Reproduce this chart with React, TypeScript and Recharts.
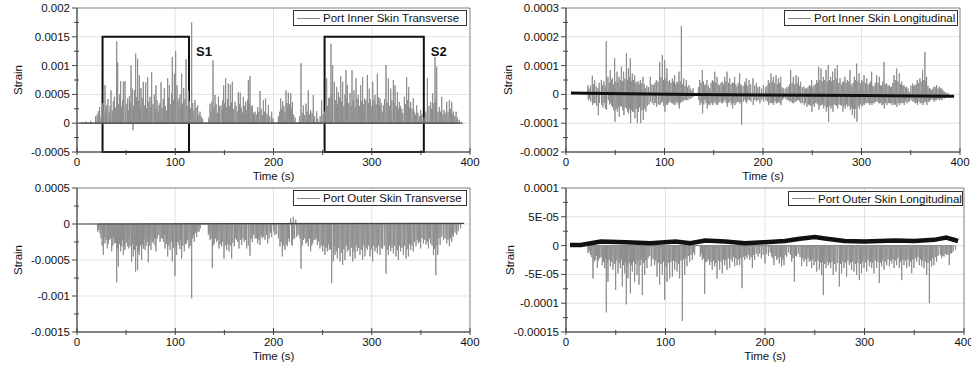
import React from 'react';
import { LineChart, Line, XAxis, YAxis, CartesianGrid, ReferenceArea } from 'recharts';

const FONT = '"Liberation Sans", Arial, sans-serif';

// time axis, seconds
const timeTicks = [0, 50, 100, 150, 200, 250, 300, 350, 400];
const timeMajor = [0, 100, 200, 300, 400];

// ---- Port Inner Skin Transverse, strain x 1e-3, [time, peak]
const innerTransPeaks = [
  [5, 0.02], [9, 0.03], [14, 0.04], [19, 0.12], [21.7, 0.21], [28.5, 0.66], [30.2, 0.31], [34.6, 0.57],
  [38, 0.46], [40.4, 1.42], [41.4, 1.06], [44.4, 0.73], [47.2, 0.72], [48.9, 0.73], [51.6, 0.43],
  [53.3, 0.47], [55, 1.0], [56.3, 0.6], [57, -0.12], [58.4, 0.57], [59.7, 1.21], [61.7, 1.12], [63.4, 0.83],
  [65.1, 0.61], [67.5, 0.72], [69.9, 0.71], [71.9, 0.8], [74.3, 0.46], [76, 0.89], [78.7, 0.5],
  [80.4, 0.66], [83.5, 0.31], [85.5, 0.71], [88.9, 0.61], [92.3, 0.78], [94, 0.66], [97, 1.15],
  [99.1, 0.86], [100.4, 1.25], [101.8, 0.66], [103.8, 0.43], [106.5, 0.86], [108.6, 0.61], [111, 1.11],
  [113.3, 0.56], [116.7, 1.75], [120.1, 0.4], [122.8, 0.31], [125.2, 0.2], [135.4, 0.34], [138.4, 1.09],
  [140.5, 0.49], [143.9, 0.46], [146.6, 0.31], [149.3, 0.66], [151.3, 0.78], [154, 0.69], [156.1, 0.67],
  [158.1, 0.72], [160.8, 0.37], [164.2, 0.54], [166.2, 0.53], [169.3, 0.46], [171.7, 0.37], [174.4, 0.75],
  [176.1, 0.82], [178.5, 0.31], [181.2, 0.2], [183.9, 0.28], [186.3, 0.56], [189.7, 0.4], [192, 0.43],
  [194.8, 0.31], [198.1, 0.2], [207.3, 0.43], [209.3, 0.38], [212.7, 0.57], [215.1, 0.53], [217.5, 0.52],
  [219.2, 0.37], [228, 1.04], [230.4, 0.31], [233.1, 0.34], [235.4, 0.57], [237.8, 0.23], [240.5, 0.49],
  [243.9, 0.21], [249, 0.4], [254.1, 0.78], [256.1, 0.43], [258.5, 1.38], [260.2, 1.01], [261.9, 0.72],
  [264.3, 0.63], [266, 0.54], [268.4, 0.82], [270.4, 0.72], [273.8, 0.92], [275.2, 0.66], [277.9, 0.52],
  [279.9, 0.92], [281.9, 0.57], [284, 0.78], [286.3, 0.49], [288.7, 0.66], [290.7, 0.8], [292.8, 0.43],
  [295.5, 0.84], [297.5, 0.6], [301, 0.72], [303.3, 0.49], [305.7, 0.86], [308.4, 0.43], [311.8, 0.31],
  [314.5, 1.01], [316.9, 0.78], [319.3, 0.6], [322, 0.75], [323.7, 0.66], [326.1, 0.54], [328.1, 0.37],
  [330.5, 0.25], [333.2, 0.46], [335.5, 0.8], [337.6, 0.63], [339.6, 0.37], [342.3, 0.43], [345.7, 0.31],
  [349.8, 0.23], [356.6, 0.78], [360, 0.37], [362, 0.52], [364.4, 1.15], [366.1, 0.98], [368.8, 0.28],
  [371.2, 0.46], [373.6, 0.23], [376.3, 0.37], [379, 0.4], [381.4, 0.37], [383.1, 0.2], [385.8, 0.2],
];
// small spikes filling the band near zero
const innerTransMinor = [
  [20.5, 0.15], [23, 0.28], [24.5, 0.12], [26, 0.35], [27.3, 0.2], [29.4, 0.25], [31.5, 0.42], [32.8, 0.18],
  [33.7, 0.3], [36, 0.22], [37, 0.38], [39.2, 0.27], [42.5, 0.33], [43.4, 0.5], [45.5, 0.29], [46.3, 0.4],
  [50, 0.34], [52.5, 0.22], [54.2, 0.36], [57.6, 0.3], [60.6, 0.45], [62.6, 0.38], [64.3, 0.28], [66.3, 0.44],
  [68.7, 0.31], [70.8, 0.26], [73.1, 0.37], [75.2, 0.28], [77.3, 0.33], [79.6, 0.24], [81.5, 0.4], [82.5, 0.2],
  [84.5, 0.35], [86.7, 0.27], [87.8, 0.42], [90, 0.3], [91.2, 0.22], [93.1, 0.45], [95.5, 0.33], [96.2, 0.52],
  [98, 0.4], [102.7, 0.37], [104.9, 0.5], [105.7, 0.28], [107.5, 0.34], [109.8, 0.42], [112, 0.3], [114.3, 0.38],
  [115.5, 0.26], [117.8, 0.35], [119, 0.22], [121.2, 0.27], [124, 0.15], [126.5, 0.12], [127.8, 0.08],
  [134.2, 0.1], [136.5, 0.2], [137.3, 0.38], [139.5, 0.28], [141.6, 0.33], [142.8, 0.18], [145, 0.3], [147.8, 0.22],
  [148.4, 0.4], [150.2, 0.35], [152.5, 0.28], [153.2, 0.42], [155, 0.3], [157.2, 0.36], [159.3, 0.25], [161.9, 0.3],
  [163.2, 0.2], [165.3, 0.33], [167.4, 0.27], [168.4, 0.18], [170.5, 0.3], [172.8, 0.22], [173.5, 0.4], [175.2, 0.35],
  [177.3, 0.3], [179.7, 0.18], [180.4, 0.12], [182.5, 0.15], [185, 0.2], [187.5, 0.25], [188.6, 0.14], [191, 0.2],
  [193.4, 0.16], [196.2, 0.12], [199.5, 0.08], [205, 0.12], [206.3, 0.2], [208.4, 0.25], [210.5, 0.3], [211.6, 0.2],
  [213.8, 0.35], [214.3, 0.27], [216.3, 0.33], [218.3, 0.25], [220.5, 0.15], [222, 0.1], [226.5, 0.12], [229.2, 0.18],
  [231.6, 0.14], [234.2, 0.2], [236.6, 0.15], [239.2, 0.18], [241.8, 0.12], [245, 0.08], [247.5, 0.12],
  [250.5, 0.15], [252, 0.2], [253, 0.35], [255.2, 0.3], [257.3, 0.45], [259.4, 0.5], [263, 0.4], [265.2, 0.33],
  [267.2, 0.45], [269.4, 0.38], [271.6, 0.3], [272.7, 0.5], [274.6, 0.42], [276.5, 0.35], [278.8, 0.3], [281, 0.4],
  [283, 0.28], [285.1, 0.42], [287.5, 0.3], [289.7, 0.38], [291.8, 0.33], [294, 0.4], [296.5, 0.35], [298.7, 0.42],
  [300, 0.3], [302.2, 0.4], [304.4, 0.33], [306.8, 0.45], [307.6, 0.3], [309.5, 0.35], [310.6, 0.2], [313, 0.42],
  [315.7, 0.36], [318.1, 0.3], [320.5, 0.4], [322.8, 0.35], [325, 0.3], [327.1, 0.25], [329.3, 0.3], [331.6, 0.18],
  [334.3, 0.33], [336.6, 0.4], [338.6, 0.27], [341, 0.25], [343.5, 0.2], [344.6, 0.15], [347, 0.18], [348.5, 0.12],
  [351, 0.15], [353.2, 0.1], [355, 0.2], [358.3, 0.3], [361, 0.25], [363.2, 0.35], [365.3, 0.4], [367.4, 0.2],
  [370, 0.2], [372.4, 0.15], [374.8, 0.18], [377.7, 0.2], [380.2, 0.25], [382.2, 0.15], [384.5, 0.12], [387, 0.1],
  [389, 0.06],
];
const innerTransBase = [[0.5, 0], [392.5, 0]];
const innerTransTicks = [-0.5, -0.25, 0, 0.25, 0.5, 0.75, 1, 1.25, 1.5, 1.75, 2];
const innerTransMajor = [-0.5, 0, 0.5, 1, 1.5, 2];
const innerTransLabels = ['-0.0005', '0', '0.0005', '0.001', '0.0015', '0.002'];

// ---- Port Inner Skin Longitudinal, strain x 1e-4, [time, peak, trough]
const innerLongPeaks = [
  [22.3, 0.32, -0.2], [26.7, 0.65, -0.37], [29.1, 0.5, -0.31], [32.5, 0.21, -0.72], [35.9, 0.5, -0.37],
  [40.9, 1.85, -0.54], [42.6, 0.61, -0.2], [45, 0.85, -0.31], [47, 0.56, -0.43], [49.4, 1.25, -0.95],
  [51.8, 0.79, -0.6], [53.8, 0.61, -0.78], [56.2, 0.96, -0.43], [58.5, 0.79, -0.72], [61.3, 1.42, -0.49],
  [63.3, 0.9, -0.66], [65.3, 1.25, -1.0], [67.3, 0.73, -0.6], [69.7, 0.67, -0.83], [72.1, 0.44, -1.0],
  [75.5, 0.5, -1.0], [78.2, 0.61, -0.89], [80.9, 0.21, -0.6], [85.6, 0.61, -0.25], [89, 0.32, -0.37],
  [91.7, 0.5, -0.43], [95.1, 1.13, -0.37], [97.8, 1.37, -0.25], [100.2, 1.19, -0.6], [102.5, 0.9, -0.37],
  [105.2, 0.5, -0.25], [108, 0.56, -0.31], [110.3, 0.67, -0.37], [112.7, 0.44, -0.25], [114.7, 0.79, -0.49],
  [117.1, 2.38, -0.25], [119.5, 0.56, -0.2], [122.2, 0.5, -0.2], [124.9, 0.32, -0.14], [129, 0.21, -0.08],
  [135.7, 0.5, -0.37], [138.4, 0.85, -0.66], [140.8, 0.32, -0.2], [143.1, 0.5, -0.49], [145.9, 0.21, -0.37],
  [148.6, 0.5, -0.37], [151, 0.79, -0.25], [153.3, 0.61, -0.37], [156, 0.32, -0.25], [158.7, 0.44, -0.31],
  [161.1, 0.61, -0.2], [163.5, 0.79, -0.43], [166.2, 0.56, -0.25], [168.9, 0.41, -0.49], [171.2, 0.61, -0.37],
  [173.6, 0.27, -0.25], [176.3, 0.73, -0.31], [178, 0.3, -1.06], [181.4, 0.44, -0.2], [183.1, 0.56, -0.31],
  [185.8, 0.5, -0.2], [189.8, 0.56, -0.37], [193.2, 0.38, -0.25], [196.6, 0.27, -0.31], [200.4, 0.32, -0.25],
  [205.4, 0.5, -0.37], [208.1, 0.73, -0.31], [210.5, 0.61, -0.37], [213.2, 0.67, -0.31], [215.6, 0.56, -0.25],
  [218, 0.61, -0.37], [220.6, 0.21, -0.14], [225.7, 0.27, -0.2], [228.1, 0.85, -0.25], [230.8, 0.61, -0.31],
  [233.5, 0.67, -0.25], [235.9, 0.61, -0.2], [238.2, 0.44, -0.31], [241.6, 0.27, -0.37], [244.3, 0.21, -0.43],
  [247, 0.32, -0.37], [249.4, 0.5, -0.6], [251.8, 0.32, -0.43], [254.5, 0.5, -0.31], [256.5, 0.96, -0.54],
  [258.9, 0.9, -0.37], [261.3, 0.61, -0.49], [264, 0.85, -0.6], [266.3, 1.02, -0.95], [268.7, 0.61, -0.49],
  [270.7, 0.79, -0.6], [273.1, 0.9, -0.37], [275.5, 1.02, -0.49], [278.2, 0.56, -0.37], [280.9, 0.44, -0.6],
  [283.2, 0.61, -0.49], [285.6, 0.5, -0.43], [288.3, 0.85, -0.54], [290.4, 0.27, -0.72], [292.7, 0.61, -0.83],
  [295.1, 1.07, -0.95], [297.5, 0.73, -0.49], [300.2, 0.5, -0.43], [302.6, 0.67, -0.37], [305.3, 0.56, -0.31],
  [308, 0.38, -0.37], [310.3, 0.79, -0.37], [312.7, 0.27, -0.31], [315.4, 0.67, -0.25], [318.1, 0.61, -0.31],
  [320.5, 0.32, -0.37], [322.9, 1.13, -0.49], [325.6, 0.38, -0.37], [328.3, 0.32, -0.31], [330.6, 0.27, -0.37],
  [333, 0.67, -0.37], [335.7, 0.9, -0.43], [338.4, 0.73, -0.37], [340.8, 0.44, -0.31], [343.1, 0.32, -0.37],
  [345.8, 0.27, -0.31], [348.5, 0.09, -0.25], [351.9, 0.38, -0.25], [354.3, 0.32, -0.31], [356.6, 0.5, -0.37],
  [359.3, 0.56, -0.31], [362, 0.85, -0.37], [364.4, 1.48, -0.25], [366.1, 0.61, -0.37], [368.8, 0.21, -0.25],
  [371.2, 0.15, -0.14], [373.6, 0.27, -0.25], [376.3, 0.32, -0.2], [379, 0.27, -0.2], [381.4, 0.21, -0.2],
  [383.8, 0.09, -0.14], [386.5, 0.03, -0.1],
];
const innerLongMinor = [
  [23.5, 0.2, -0.15], [24.9, 0.3, -0.25], [28, 0.35, -0.3], [30.8, 0.28, -0.4], [33.7, 0.4, -0.3], [37.2, 0.33, -0.45],
  [38.5, 0.45, -0.3], [39.7, 0.3, -0.5], [43.8, 0.4, -0.35], [46, 0.5, -0.4], [48.2, 0.35, -0.55], [50.6, 0.45, -0.5],
  [52.8, 0.4, -0.45], [55, 0.5, -0.4], [57.4, 0.45, -0.55], [59.8, 0.55, -0.45], [62.3, 0.5, -0.6], [64.3, 0.6, -0.5],
  [66.3, 0.45, -0.55], [68.5, 0.5, -0.6], [70.9, 0.4, -0.5], [73.3, 0.45, -0.6], [74.3, 0.35, -0.45], [76.8, 0.4, -0.55],
  [79.5, 0.35, -0.5], [82.2, 0.3, -0.4], [83.9, 0.25, -0.35], [87.3, 0.35, -0.3], [90.3, 0.4, -0.3], [93.4, 0.45, -0.35],
  [96.4, 0.6, -0.3], [99, 0.5, -0.4], [101.3, 0.55, -0.35], [103.8, 0.45, -0.3], [106.6, 0.4, -0.3], [109.2, 0.45, -0.35],
  [111.5, 0.35, -0.3], [113.7, 0.4, -0.35], [115.9, 0.45, -0.3], [118.3, 0.35, -0.25], [120.8, 0.3, -0.2],
  [123.5, 0.25, -0.2], [126.5, 0.2, -0.15], [127.7, 0.12, -0.1], [134.5, 0.25, -0.2], [137, 0.4, -0.3],
  [139.6, 0.45, -0.35], [142, 0.35, -0.3], [144.5, 0.3, -0.35], [147.2, 0.4, -0.3], [149.8, 0.45, -0.3],
  [152.1, 0.4, -0.35], [154.6, 0.35, -0.3], [157.4, 0.4, -0.3], [159.9, 0.35, -0.25], [162.3, 0.45, -0.3],
  [164.9, 0.4, -0.3], [167.5, 0.35, -0.35], [170, 0.4, -0.3], [172.4, 0.35, -0.3], [174.9, 0.4, -0.25],
  [177.5, 0.35, -0.3], [179.8, 0.3, -0.25], [182.2, 0.35, -0.25], [184.5, 0.3, -0.2], [187.5, 0.35, -0.25],
  [191.5, 0.3, -0.2], [194.8, 0.25, -0.2], [198.5, 0.2, -0.2], [202.5, 0.25, -0.2], [204, 0.3, -0.25],
  [206.8, 0.4, -0.3], [209.3, 0.45, -0.3], [211.8, 0.4, -0.25], [214.4, 0.35, -0.3], [216.8, 0.4, -0.3],
  [219.3, 0.25, -0.2], [222.5, 0.2, -0.15], [224.2, 0.25, -0.2], [227, 0.35, -0.25], [229.5, 0.4, -0.3],
  [232.2, 0.35, -0.25], [234.7, 0.4, -0.2], [237, 0.3, -0.25], [239.9, 0.25, -0.3], [242.9, 0.2, -0.3],
  [245.7, 0.25, -0.35], [248.2, 0.3, -0.4], [250.6, 0.25, -0.35], [253.2, 0.35, -0.3], [255.5, 0.4, -0.35],
  [257.7, 0.5, -0.4], [260.1, 0.45, -0.35], [262.6, 0.5, -0.4], [265.2, 0.45, -0.45], [267.5, 0.5, -0.4],
  [269.7, 0.45, -0.4], [271.9, 0.5, -0.35], [274.3, 0.55, -0.4], [276.8, 0.4, -0.35], [279.5, 0.35, -0.4],
  [282, 0.45, -0.4], [284.4, 0.4, -0.35], [287, 0.45, -0.4], [289.4, 0.35, -0.45], [291.5, 0.4, -0.5],
  [293.9, 0.5, -0.5], [296.3, 0.45, -0.4], [298.8, 0.4, -0.35], [301.4, 0.45, -0.35], [304, 0.4, -0.3],
  [306.6, 0.35, -0.3], [309.1, 0.45, -0.3], [311.5, 0.3, -0.3], [314, 0.4, -0.25], [316.8, 0.4, -0.3],
  [319.3, 0.3, -0.3], [321.7, 0.45, -0.35], [324.2, 0.35, -0.3], [327, 0.3, -0.3], [329.5, 0.25, -0.3],
  [331.8, 0.4, -0.3], [334.3, 0.5, -0.35], [337, 0.45, -0.3], [339.6, 0.35, -0.3], [342, 0.3, -0.3],
  [344.5, 0.25, -0.25], [347.2, 0.2, -0.25], [350.2, 0.3, -0.2], [353.1, 0.3, -0.25], [355.5, 0.35, -0.3],
  [358, 0.4, -0.25], [360.6, 0.45, -0.3], [363.2, 0.5, -0.3], [365.3, 0.45, -0.25], [367.5, 0.3, -0.25],
  [370, 0.2, -0.2], [372.4, 0.2, -0.2], [375, 0.25, -0.2], [377.7, 0.2, -0.15], [380.2, 0.2, -0.15],
  [382.6, 0.15, -0.12], [385.2, 0.08, -0.1], [388, 0.05, -0.08],
];
const innerLongBase = [[5, 0.05], [20, 0.04], [60, 0.02], [130, 0], [200, -0.02], [300, -0.04], [394, -0.06]];
const innerLongTicks = [-2, -1.5, -1, -0.5, 0, 0.5, 1, 1.5, 2, 2.5, 3];
const innerLongMajor = [-2, -1, 0, 1, 2, 3];
const innerLongLabels = ['-0.0002', '-0.0001', '0', '0.0001', '0.0002', '0.0003'];

// ---- Port Outer Skin Transverse, strain x 1e-3, [time, peak]
const outerTransPeaks = [
  [21, -0.11], [23.4, -0.13], [26.8, -0.43], [28.5, -0.27], [30.9, -0.34], [32.9, -0.22], [35.3, -0.38],
  [38, -0.27], [40.4, -0.81], [42.1, -0.59], [44.4, -0.38], [47.2, -0.43], [48.9, -0.36], [51.6, -0.31],
  [54, -0.31], [55.6, -0.52], [57.3, -0.45], [59.7, -0.66], [61.7, -0.64], [63.4, -0.43], [65.8, -0.5],
  [67.5, -0.34], [69.2, -0.36], [72.6, -0.53], [75.3, -0.36], [77.7, -0.27], [80.4, -0.38], [84.5, -0.25],
  [86.9, -0.2], [89.6, -0.34], [92.3, -0.45], [94.7, -0.36], [97, -0.52], [99.7, -0.72], [101.4, -0.43],
  [103.8, -0.29], [106.5, -0.48], [109.2, -0.38], [111.6, -0.27], [114, -0.34], [116.7, -1.03], [119.4, -0.25],
  [121.8, -0.18], [124.2, -0.11], [133.7, -0.15], [135.4, -0.22], [137.7, -0.61], [139.8, -0.27], [142.2, -0.25],
  [144.5, -0.34], [147.2, -0.31], [149.6, -0.48], [152.3, -0.36], [154.7, -0.38], [157.4, -0.48], [160.1, -0.31],
  [162.5, -0.22], [164.9, -0.34], [167.6, -0.29], [170.3, -0.25], [172.7, -0.34], [176.1, -0.44], [178.5, -0.25],
  [181.2, -0.2], [183.9, -0.27], [186.3, -0.29], [188.6, -0.2], [191.4, -0.22], [194.1, -0.27], [198.1, -0.18],
  [201.5, -0.15], [206.6, -0.31], [209, -0.45], [211.7, -0.36], [214.1, -0.31], [216.1, -0.25], [217.5, 0.08],
  [218.5, -0.29], [219.5, -0.22], [220.2, 0.1], [220.9, -0.2], [223.6, -0.18], [228, -0.62], [230.4, -0.22],
  [233.1, -0.27], [235.4, -0.31], [237.8, -0.38], [239.9, -0.27], [242.3, -0.22], [244.6, -0.29], [247.3, -0.34],
  [250.1, -0.38], [252.4, -0.43], [254.8, -0.38], [256.8, -0.36], [259.2, -0.82], [260.9, -0.52], [262.6, -0.43],
  [265, -0.48], [267.7, -0.52], [270.4, -0.57], [272.8, -0.5], [275.2, -0.38], [277.9, -0.45], [280.6, -0.52],
  [283, -0.48], [285.3, -0.38], [288, -0.43], [290.7, -0.5], [293.1, -0.45], [295.5, -0.36], [298.2, -0.45],
  [300.9, -0.52], [303.3, -0.38], [305.7, -0.41], [308.4, -0.43], [311.1, -0.34], [314.5, -0.69], [316.9, -0.43],
  [319.3, -0.38], [322, -0.41], [324.7, -0.45], [327.1, -0.5], [329.4, -0.38], [332.2, -0.43], [334.9, -0.48],
  [337.3, -0.45], [339.6, -0.36], [342.3, -0.38], [345.1, -0.31], [347.5, -0.27], [349.8, -0.34], [352.6, -0.27],
  [355.3, -0.29], [357.7, -0.34], [360, -0.27], [362.8, -0.43], [365.2, -0.71], [367.2, -0.43], [369.6, -0.29],
  [373, -0.22], [376.3, -0.27], [379, -0.31], [381.4, -0.25], [383.1, -0.18], [386.5, -0.15],
];
const outerTransMinor = [
  [22, -0.08], [24.5, -0.2], [25.6, -0.3], [27.6, -0.18], [29.6, -0.22], [31.8, -0.28], [34.1, -0.2], [36.4, -0.3],
  [37.2, -0.18], [39.2, -0.26], [41.3, -0.34], [43.2, -0.28], [45.5, -0.31], [46.3, -0.22], [48, -0.3], [50.2, -0.26],
  [52.8, -0.34], [53.2, -0.2], [56.4, -0.28], [58.5, -0.36], [60.7, -0.3], [62.5, -0.38], [64.6, -0.3], [66.7, -0.28],
  [68.3, -0.22], [70.4, -0.3], [71.5, -0.25], [73.8, -0.3], [74.4, -0.2], [76.5, -0.25], [78.8, -0.2], [79.6, -0.3],
  [81.6, -0.2], [83.2, -0.15], [85.7, -0.2], [88, -0.25], [88.8, -0.15], [90.8, -0.28], [91.5, -0.2], [93.5, -0.3],
  [95.8, -0.25], [98.2, -0.33], [100.6, -0.3], [102.6, -0.25], [104.8, -0.35], [105.6, -0.22], [107.7, -0.3],
  [110.4, -0.28], [112.7, -0.22], [115.2, -0.3], [117.8, -0.2], [118.6, -0.15], [120.5, -0.12], [123, -0.1],
  [125.5, -0.06], [134.6, -0.12], [136.4, -0.2], [138.7, -0.3], [141, -0.2], [143.3, -0.22], [145.8, -0.28],
  [148.4, -0.25], [150.8, -0.3], [153.5, -0.28], [155.8, -0.3], [158.6, -0.26], [161.2, -0.2], [163.7, -0.25],
  [166.2, -0.22], [168.9, -0.2], [171.5, -0.22], [174.4, -0.3], [177.3, -0.2], [179.8, -0.15], [182.5, -0.2],
  [185.1, -0.22], [187.5, -0.16], [190, -0.18], [192.8, -0.15], [195.6, -0.2], [197, -0.12], [200.2, -0.1],
  [203, -0.14], [205, -0.2], [207.8, -0.25], [210.3, -0.3], [212.9, -0.28], [215.2, -0.2], [219, -0.3],
  [221.5, -0.2], [222.6, 0.06], [225, -0.15], [226.8, -0.2], [229.2, -0.3], [231.8, -0.2], [234.3, -0.25],
  [236.6, -0.2], [238.9, -0.3], [241.2, -0.22], [243.5, -0.2], [245.9, -0.25], [248.7, -0.3], [251.2, -0.3],
  [253.6, -0.33], [255.8, -0.28], [258, -0.35], [261.8, -0.3], [263.8, -0.38], [266.3, -0.33], [268.9, -0.4],
  [271.6, -0.35], [274, -0.3], [276.5, -0.36], [279.2, -0.33], [281.8, -0.38], [284.1, -0.3], [286.6, -0.33],
  [289.3, -0.36], [292, -0.3], [294.3, -0.33], [296.8, -0.3], [299.5, -0.35], [302.1, -0.3], [304.5, -0.33],
  [307, -0.3], [309.7, -0.34], [312.8, -0.3], [315.7, -0.36], [318.1, -0.3], [320.6, -0.33], [323.3, -0.3],
  [325.9, -0.36], [328.2, -0.3], [330.8, -0.33], [333.5, -0.3], [336.1, -0.35], [338.4, -0.28], [340.9, -0.3],
  [343.7, -0.25], [346.3, -0.22], [348.6, -0.25], [351.2, -0.2], [354, -0.22], [356.5, -0.25], [358.8, -0.2],
  [361.4, -0.3], [364, -0.35], [366.2, -0.3], [368.4, -0.2], [371.3, -0.18], [374.6, -0.2], [377.6, -0.22],
  [380.2, -0.2], [382.3, -0.15], [384.8, -0.12], [388, -0.1], [390.5, -0.06],
];
const outerTransBase = [[0.5, 0], [394, 0.01]];
const outerTransTicks = [-1.5, -1.25, -1, -0.75, -0.5, -0.25, 0, 0.25, 0.5];
const outerTransMajor = [-1.5, -1, -0.5, 0, 0.5];
const outerTransLabels = ['-0.0015', '-0.001', '-0.0005', '0', '0.0005'];

// ---- Port Outer Skin Longitudinal, strain x 1e-5, [time, peak]
const outerLongPeaks = [
  [22.1, -1.3], [24.5, -1.6], [27.1, -5.7], [29.5, -2.5], [31.5, -3.9], [33.8, -2.2], [36.5, -3.4], [38.9, -3.9],
  [40.5, -11.6], [42.2, -6.3], [44.6, -3.6], [47.2, -4.2], [49.9, -7.7], [52.3, -4.8], [54.6, -3.9], [56.6, -7.1],
  [59, -4.8], [60.6, -10.2], [62.3, -5.7], [64.7, -8.3], [66.7, -4.5], [69, -6.3], [71.4, -5.1], [73.4, -6.8],
  [76.7, -8.6], [79.1, -5.1], [81.4, -3.9], [85.8, -3.6], [89.1, -3.4], [91.5, -5.4], [94.1, -6.8], [96.8, -5.1],
  [99.2, -9.4], [101.5, -6.3], [104.2, -5.7], [106.9, -5.4], [109.2, -4.2], [111.6, -4.5], [114.2, -5.7],
  [116.9, -13.1], [119.3, -5.1], [121.6, -3.6], [124.3, -2.8], [127, -2.5], [129.3, -1.6], [135, -1.9], [137, -2.5],
  [139.4, -8.4], [141.7, -2.8], [144.4, -3.4], [147, -4.2], [149.4, -3.6], [151.8, -5.7], [154.4, -4.2],
  [157.1, -4.8], [159.5, -3.4], [161.8, -4.2], [164.5, -3.9], [167.2, -2.8], [169.5, -3.6], [171.9, -3.4],
  [174.5, -3.4], [176.9, -7.4], [179.6, -2.5], [181.9, -2.2], [184.6, -2.5], [187.3, -3.9], [189.6, -2.5],
  [193, -1.9], [196.3, -2.2], [200, -3.1], [206.7, -1.9], [209, -3.4], [211.7, -2.5], [214.4, -3.1], [216.7, -3.6],
  [219.1, -3.4], [221.8, -1.9], [226.8, -2.8], [229.5, -6.3], [231.8, -1.9], [236.8, -3.6], [239.2, -2.8],
  [241.9, -3.6], [244.5, -2.8], [246.9, -3.9], [249.2, -3.4], [251.9, -4.5], [254.6, -4.2], [256.9, -5.1],
  [258.6, -8.6], [261.3, -3.9], [263.6, -3.4], [266, -3.9], [268.6, -5.1], [271.3, -4.5], [274.7, -7.1], [277, -4.8],
  [279.4, -3.9], [282, -5.4], [284.7, -3.4], [287, -4.2], [289.4, -4.5], [292.1, -5.1], [294.8, -6], [297.1, -4.8],
  [299.5, -3.9], [302.2, -4.5], [304.9, -3.6], [307.2, -3.9], [309.5, -4.8], [312.2, -3.9], [314.9, -6.5],
  [317.2, -3.6], [319.6, -4.2], [322.3, -3.4], [325, -3.6], [327.3, -3.1], [329.7, -3.9], [332.3, -3.4], [335, -3.9],
  [337.4, -6], [339.7, -3.4], [342.4, -3.9], [345, -3.6], [347.4, -4.8], [349.7, -3.9], [352.4, -2.8], [355.1, -3.4],
  [357.4, -3.6], [359.8, -3.9], [362.5, -5.1], [365.2, -10], [367.5, -3.6], [369.8, -3.4], [372.5, -2.8],
  [377.5, -2.2], [379.9, -1.9], [382.5, -1.6], [385.2, -3.4], [387.6, -1.3],
];
const outerLongMinor = [
  [23.3, -1.0], [25.8, -2.0], [28.3, -2.8], [30.5, -1.8], [32.6, -2.6], [35.2, -2.0], [37.7, -2.8], [39.7, -2.2],
  [41.3, -3.0], [43.4, -2.5], [45.9, -2.8], [48.5, -3.2], [51.1, -2.6], [53.5, -3.0], [55.6, -2.4], [57.8, -3.4],
  [60, -2.8], [61.5, -3.6], [63.5, -3.0], [65.7, -3.4], [67.8, -2.8], [70.2, -3.2], [72.4, -2.6], [74.6, -3.4],
  [75.6, -2.5], [77.9, -3.0], [80.2, -2.6], [82.6, -2.2], [84.2, -1.8], [87.5, -2.4], [90.3, -2.6], [92.8, -3.0],
  [95.5, -3.2], [98, -2.8], [100.4, -3.6], [102.9, -3.0], [105.5, -2.8], [108, -2.6], [110.4, -2.8], [112.9, -3.2],
  [115.5, -2.6], [118.1, -2.4], [120.4, -2.2], [122.9, -1.8], [125.6, -1.6], [128.2, -1.2], [136, -1.4],
  [138.2, -2.2], [140.5, -2.8], [143, -2.4], [145.7, -2.8], [148.2, -2.6], [150.6, -3.0], [153.1, -2.6],
  [155.8, -2.8], [158.3, -2.4], [160.6, -2.6], [163.1, -2.2], [165.8, -2.4], [168.3, -2.0], [170.7, -2.2],
  [173.2, -2.4], [175.7, -2.2], [178.2, -2.0], [180.7, -1.8], [183.2, -1.6], [186, -2.0], [188.4, -1.6],
  [191.3, -1.4], [194.6, -1.4], [198.2, -1.6], [201.5, -1.4], [203.5, -1.8], [205.2, -1.2], [207.8, -2.2],
  [210.3, -1.8], [213, -2.2], [215.5, -2.0], [217.9, -2.4], [220.4, -1.6], [223.8, -1.2], [225.5, -1.6],
  [228.1, -2.2], [230.6, -1.8], [233.5, -1.4], [235.2, -2.0], [238, -2.2], [240.5, -2.4], [243.2, -2.2],
  [245.7, -2.6], [248.1, -2.4], [250.6, -2.8], [253.2, -2.6], [255.7, -3.0], [257.8, -2.8], [260, -3.2],
  [262.4, -2.8], [264.8, -3.0], [267.3, -2.8], [269.9, -3.2], [273, -3.0], [275.8, -3.2], [278.2, -2.8],
  [280.7, -3.0], [283.3, -2.6], [285.8, -3.0], [288.2, -2.8], [290.8, -3.2], [293.4, -3.0], [296, -3.2],
  [298.3, -2.8], [300.8, -3.0], [303.5, -2.6], [306, -2.8], [308.3, -3.0], [310.8, -2.6], [313.5, -2.8],
  [316, -3.0], [318.4, -2.6], [320.9, -2.8], [323.6, -2.4], [326.1, -2.6], [328.5, -2.4], [331, -2.6],
  [333.6, -2.2], [336.2, -2.8], [338.5, -2.4], [341, -2.6], [343.7, -2.4], [346.2, -2.8], [348.5, -2.4],
  [351, -2.2], [353.7, -2.0], [356.2, -2.4], [358.6, -2.6], [361.1, -2.8], [363.8, -3.0], [366.3, -2.6],
  [368.6, -2.2], [371.1, -2.0], [374, -1.8], [376.2, -1.6], [378.7, -1.8], [381.2, -1.4], [383.8, -1.6],
  [386.4, -1.4], [389, -1.0], [391.5, -0.8],
];
const outerLongBase = [
  [4, 0.1], [15, 0.1], [25, 0.4], [35, 0.7], [60, 0.6], [85, 0.4], [110, 0.7], [125, 0.4], [140, 0.9], [160, 0.7],
  [180, 0.4], [200, 0.6], [220, 0.8], [235, 1.2], [250, 1.5], [262, 1.2], [280, 0.8], [300, 0.7], [330, 0.9],
  [350, 0.8], [370, 1.0], [382, 1.4], [394, 0.8],
];
const outerLongTicks = [-15, -12.5, -10, -7.5, -5, -2.5, 0, 2.5, 5, 7.5, 10];
const outerLongMajor = [-15, -10, -5, 0, 5, 10];
const outerLongLabels = ['-0.00015', '-0.0001', '-5E-05', '0', '5E-05', '0.0001'];

// selection windows in the top-left panel
const windows = [
  { name: 'S1', x1: 26, x2: 114 },
  { name: 'S2', x1: 252, x2: 353 },
];

type Row = { t: number; s?: number; m?: number; b?: number };

function pushSpikes(rows: Row[], peaks: number[][], key: 's' | 'm') {
  peaks.forEach((p) => {
    rows.push({ t: p[0] - 0.25, [key]: 0 });
    rows.push({ t: p[0], [key]: p[1] });
    if (p.length > 2) {
      rows.push({ t: p[0] + 0.3, [key]: p[2] });
      rows.push({ t: p[0] + 0.55, [key]: 0 });
    } else {
      rows.push({ t: p[0] + 0.25, [key]: 0 });
    }
  });
}

function buildRows(peaks: number[][], minor: number[][], base: number[][]): Row[] {
  const rows: Row[] = [];
  pushSpikes(rows, peaks, 's');
  pushSpikes(rows, minor, 'm');
  base.forEach((p) => rows.push({ t: p[0], b: p[1] }));
  return rows.sort((a, b) => a.t - b.t);
}

const near = (a: number, b: number) => Math.abs(a - b) < 1e-9;

const makeYTick = (major: number[], labels: string[]) => (props: any) => {
  const { x, y, payload } = props;
  const i = major.findIndex((m) => near(m, payload.value));
  if (i < 0) return <line x1={x - 3} x2={x + 2} y1={y} y2={y} stroke="#444" />;
  return (
    <g>
      <line x1={x - 5} x2={x} y1={y} y2={y} stroke="#444" />
      <text x={x - 7} y={y + 4} textAnchor="end" fontSize={11.5} fill="#111" fontFamily={FONT}>
        {labels[i]}
      </text>
    </g>
  );
};

const XTick = (props: any) => {
  const { x, y, payload } = props;
  const major = timeMajor.some((m) => near(m, payload.value));
  return (
    <g>
      <line x1={x} x2={x} y1={y - (major ? 4 : 2)} y2={y + 3} stroke="#444" />
      {major && (
        <text x={x} y={y + 13.5} textAnchor="middle" fontSize={11.5} fill="#111" fontFamily={FONT}>
          {payload.value}
        </text>
      )}
    </g>
  );
};

interface PanelProps {
  left: number;
  top: number;
  width: number;
  height: number;
  yAxisWidth: number;
  marginTop: number;
  marginRight: number;
  xAxisHeight: number;
  peaks: number[][];
  minor: number[][];
  base: number[][];
  yTicks: number[];
  yMajor: number[];
  yLabels: string[];
  baseColor: string;
  baseWidth: number;
  strainX: number;
  legend: string;
  legendBox: { left: number; top: number; width: number; height: number };
  boxes?: { name: string; x1: number; x2: number }[];
  boxTop?: number;
}

const Panel: React.FC<PanelProps> = (p) => {
  const rows = buildRows(p.peaks, p.minor, p.base);
  const yMin = p.yTicks[0];
  const yMax = p.yTicks[p.yTicks.length - 1];
  const gridY = p.yMajor.filter((v) => v !== yMin && v !== yMax);
  return (
    <>
      <div style={{ position: 'absolute', left: p.left, top: p.top }}>
        <LineChart
          width={p.width}
          height={p.height}
          data={rows}
          margin={{ top: p.marginTop, right: p.marginRight, left: 0, bottom: 0 }}
        >
          <CartesianGrid stroke="#e3e3e3" horizontalValues={gridY} verticalValues={[100, 200, 300]} />
          <XAxis
            dataKey="t"
            type="number"
            domain={[0, 400]}
            ticks={timeTicks}
            interval={0}
            tickSize={0}
            tickMargin={0}
            tickLine={false}
            tick={XTick}
            height={p.xAxisHeight}
            axisLine={{ stroke: '#444' }}
            allowDataOverflow
            label={{
              content: (lp: any) => {
                const vb = lp.viewBox;
                return (
                  <text x={vb.x + vb.width / 2} y={vb.y + 28} textAnchor="middle" fontSize={11.5} fill="#111" fontFamily={FONT}>
                    Time (s)
                  </text>
                );
              },
            }}
          />
          <YAxis
            type="number"
            domain={[yMin, yMax]}
            ticks={p.yTicks}
            interval={0}
            tickSize={0}
            tickMargin={0}
            tickLine={false}
            tick={makeYTick(p.yMajor, p.yLabels)}
            width={p.yAxisWidth}
            axisLine={{ stroke: '#444' }}
            allowDataOverflow
            label={{
              content: (lp: any) => {
                const vb = lp.viewBox;
                const cy = vb.y + vb.height / 2;
                return (
                  <text
                    x={p.strainX}
                    y={cy}
                    textAnchor="middle"
                    dominantBaseline="central"
                    transform={`rotate(-90, ${p.strainX}, ${cy})`}
                    fontSize={11.5}
                    fill="#111"
                    fontFamily={FONT}
                  >
                    Strain
                  </text>
                );
              },
            }}
          />
          <ReferenceArea x1={0} x2={400} y1={yMin} y2={yMax} fill="none" stroke="#808080" strokeWidth={1} />
          <Line
            type="linear"
            dataKey="m"
            stroke="#8c8c8c"
            strokeWidth={0.9}
            dot={false}
            activeDot={false}
            connectNulls
            isAnimationActive={false}
          />
          <Line
            type="linear"
            dataKey="s"
            stroke="#8a8a8a"
            strokeWidth={0.9}
            dot={false}
            activeDot={false}
            connectNulls
            isAnimationActive={false}
          />
          <Line
            type="linear"
            dataKey="b"
            stroke={p.baseColor}
            strokeWidth={p.baseWidth}
            dot={false}
            activeDot={false}
            connectNulls
            isAnimationActive={false}
          />
          {(p.boxes || []).map((w) => (
            <ReferenceArea
              key={w.name}
              x1={w.x1}
              x2={w.x2}
              y1={yMin}
              y2={p.boxTop}
              fill="none"
              stroke="#111"
              strokeWidth={2}
              label={{
                content: (lp: any) => {
                  const vb = lp.viewBox;
                  return (
                    <text x={vb.x + vb.width + 7} y={vb.y + 19} fontSize={13} fontWeight="bold" fill="#111" fontFamily={FONT}>
                      {w.name}
                    </text>
                  );
                },
              }}
            />
          ))}
        </LineChart>
      </div>
      <div
        style={{
          position: 'absolute',
          left: p.legendBox.left,
          top: p.legendBox.top,
          width: p.legendBox.width,
          height: p.legendBox.height,
          boxSizing: 'border-box',
          border: '1px solid #333',
          background: '#fff',
          display: 'flex',
          alignItems: 'center',
          overflow: 'hidden',
          whiteSpace: 'nowrap',
          fontFamily: FONT,
          fontSize: 11.5,
          color: '#111',
        }}
      >
        <span style={{ display: 'inline-block', width: 23, height: 1, background: '#888', marginLeft: 3, marginRight: 3 }} />
        <span>{p.legend}</span>
      </div>
    </>
  );
};

export default function App() {
  return (
    <div style={{ position: 'absolute', left: 0, top: 0, width: 971, height: 369, background: '#fff', overflow: 'hidden' }}>
      <Panel
        left={0}
        top={0}
        width={480}
        height={182}
        yAxisWidth={77}
        marginTop={8}
        marginRight={10}
        xAxisHeight={30}
        peaks={innerTransPeaks}
        minor={innerTransMinor}
        base={innerTransBase}
        yTicks={innerTransTicks}
        yMajor={innerTransMajor}
        yLabels={innerTransLabels}
        baseColor="#444"
        baseWidth={1.2}
        strainX={18}
        legend="Port Inner Skin Transverse"
        legendBox={{ left: 293, top: 10, width: 174, height: 16 }}
        boxes={windows}
        boxTop={1.5}
      />
      <Panel
        left={485}
        top={0}
        width={486}
        height={182}
        yAxisWidth={81}
        marginTop={8}
        marginRight={11}
        xAxisHeight={30}
        peaks={innerLongPeaks}
        minor={innerLongMinor}
        base={innerLongBase}
        yTicks={innerLongTicks}
        yMajor={innerLongMajor}
        yLabels={innerLongLabels}
        baseColor="#111"
        baseWidth={3}
        strainX={23}
        legend="Port Inner Skin Longitudinal"
        legendBox={{ left: 784, top: 10, width: 174, height: 16 }}
      />
      <Panel
        left={0}
        top={182}
        width={480}
        height={187}
        yAxisWidth={77}
        marginTop={6}
        marginRight={10}
        xAxisHeight={37}
        peaks={outerTransPeaks}
        minor={outerTransMinor}
        base={outerTransBase}
        yTicks={outerTransTicks}
        yMajor={outerTransMajor}
        yLabels={outerTransLabels}
        baseColor="#444"
        baseWidth={1.2}
        strainX={18}
        legend="Port Outer Skin Transverse"
        legendBox={{ left: 293, top: 190, width: 174, height: 16 }}
      />
      <Panel
        left={485}
        top={182}
        width={486}
        height={187}
        yAxisWidth={81}
        marginTop={6}
        marginRight={7}
        xAxisHeight={37}
        peaks={outerLongPeaks}
        minor={outerLongMinor}
        base={outerLongBase}
        yTicks={outerLongTicks}
        yMajor={outerLongMajor}
        yLabels={outerLongLabels}
        baseColor="#111"
        baseWidth={4.5}
        strainX={25}
        legend="Port Outer Skin Longitudinal"
        legendBox={{ left: 788, top: 191, width: 175, height: 15 }}
      />
    </div>
  );
}
